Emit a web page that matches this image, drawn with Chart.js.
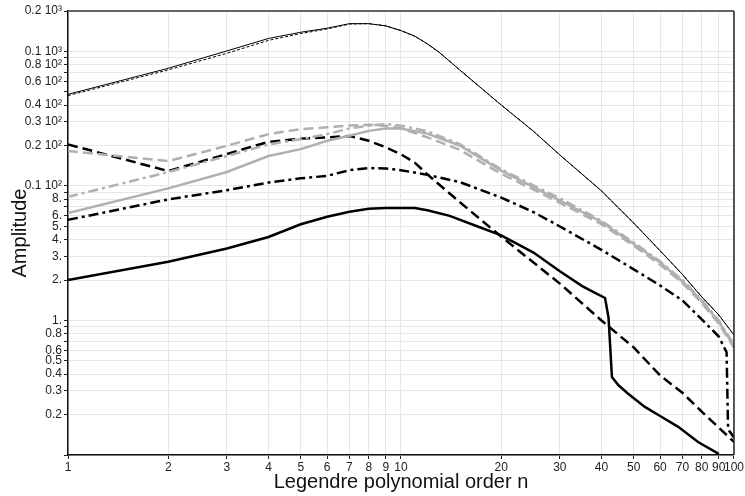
<!DOCTYPE html>
<html>
<head>
<meta charset="utf-8">
<script src="https://cdn.jsdelivr.net/npm/chart.js@4/dist/chart.umd.min.js"></script>
<style>
  html, body { margin: 0; padding: 0; background: #fff; }
  #wrap { width: 745px; height: 496px; }
</style>
</head>
<body>
<div id="wrap"><canvas id="ampChart" width="745" height="496"></canvas></div>
<script>
// tick values and labels
const xTickValues = [1, 2, 3, 4, 5, 6, 7, 8, 9, 10, 20, 30, 40, 50, 60, 70, 80, 90, 100];
const xTickLabels = ['1', '2', '3', '4', '5', '6', '7', '8', '9', '10', '20', '30', '40', '50', '60', '70', '80', '90', '100'];

const yTickValues = [0.1, 0.2, 0.3, 0.4, 0.5, 0.6, 0.7, 0.8, 0.9, 1, 2, 3, 4, 5, 6, 7, 8, 9,
                     10, 20, 30, 40, 50, 60, 70, 80, 90, 100, 200];
const yTickLabels = ['', '0.2', '0.3', '0.4', '0.5', '0.6', '', '0.8', '', '1.', '2.', '3.', '4.', '5.', '6.', '', '8.', '',
                     '0.1 10²', '0.2 10²', '0.3 10²', '0.4 10²', '', '0.6 10²', '', '0.8 10²', '', '0.1 10³', '0.2 10³'];

// series (n, amplitude)
const nTop = [1, 2, 3, 4, 5, 6, 7, 8, 9, 10, 11, 12, 13, 15, 20, 25, 30, 40, 50, 60, 70, 80, 90, 100];
const thinSolid = [48, 75, 101, 125, 139, 149, 161, 161, 155, 143, 130, 114, 99, 73, 40, 25.5, 17, 9.2, 5.3, 3.3, 2.2, 1.5, 1.1, 0.78];
const thinDotted = [47, 73, 97, 121, 136, 147, 160, 161, 155, 143, 130, 114, 99, 73, 40, 25.5, 17, 9.2, 5.3, 3.3, 2.2, 1.5, 1.1, 0.78];

const nGray = [1, 2, 3, 4, 5, 6, 7, 8, 9, 10, 12, 15, 20, 25, 30, 40, 50, 60, 70, 80, 90, 100];
const grayDashed = [18.2, 15.3, 19.9, 24.3, 26.5, 27.3, 28.2, 28.5, 28, 26.8, 23, 18.6, 12.3, 9.4, 7.5, 5.2, 3.6, 2.6, 1.9, 1.35, 0.95, 0.63];
const grayDashDot = [8.3, 12.7, 16.7, 20.4, 22.3, 24.3, 26.8, 28.1, 28.9, 28.1, 25.5, 20.5, 13.3, 10.1, 8.1, 5.5, 3.8, 2.75, 2.0, 1.42, 1.0, 0.66];
const graySolid = [6.3, 9.6, 12.7, 16.7, 18.8, 21.7, 23.6, 25.7, 26.8, 26.8, 24.5, 20, 13, 9.8, 7.8, 5.4, 3.7, 2.7, 1.95, 1.4, 0.98, 0.64];

const nDashed = [1, 2, 3, 4, 5, 6, 7, 8, 9, 10, 11, 12, 15, 20, 25, 30, 40, 50, 60, 70, 80, 90, 100];
const blackDashed = [20.4, 12.9, 17.3, 21.3, 22.5, 23, 23.5, 21.7, 19.4, 17.2, 14.9, 12.2, 7.6, 4.2, 2.7, 1.88, 1.0, 0.63, 0.39, 0.29, 0.21, 0.16, 0.125];

const nDashDot = [1, 2, 3, 4, 5, 6, 7, 8, 9, 10, 12, 15, 20, 25, 30, 40, 50, 60, 70, 80, 90, 95, 96, 100];
const blackDashDot = [5.6, 7.95, 9.3, 10.6, 11.4, 11.9, 13.1, 13.6, 13.5, 13.1, 12.1, 10.7, 8.2, 6.4, 5.0, 3.35, 2.4, 1.82, 1.41, 1.02, 0.76, 0.58, 0.155, 0.135];

const nSolid = [1, 2, 3, 4, 5, 6, 7, 8, 9, 10, 11, 12, 14, 17, 20, 25, 30, 35, 38, 41, 42, 43, 45, 48, 54, 60, 68, 78, 90];
const blackSolid = [2.0, 2.73, 3.43, 4.18, 5.19, 5.9, 6.44, 6.78, 6.85, 6.87, 6.85, 6.6, 6.0, 5.0, 4.3, 3.2, 2.32, 1.8, 1.62, 1.47, 1.05, 0.38, 0.33, 0.287, 0.228, 0.195, 0.162, 0.125, 0.102];

function pts(xs, ys) {
    return xs.map((x, i) => ({ x: x, y: ys[i] }));
}

const GRAY = '#b0b0b0';

function series(xs, ys, color, width, dash) {
    return {
        data: pts(xs, ys),
        borderColor: color,
        borderWidth: width,
        borderDash: dash,
        pointRadius: 0,
        tension: 0,
        fill: false
    };
}

// top and right frame lines
const framePlugin = {
    id: 'frame',
    afterDraw(chart) {
        const { ctx, chartArea: a } = chart;
        ctx.save();
        ctx.strokeStyle = '#666';
        ctx.lineWidth = 2;
        ctx.beginPath();
        ctx.moveTo(a.left, a.top);
        ctx.lineTo(a.right, a.top);
        ctx.stroke();
        ctx.strokeStyle = '#222';
        ctx.lineWidth = 1.5;
        ctx.beginPath();
        ctx.moveTo(a.right, a.top);
        ctx.lineTo(a.right, a.bottom);
        ctx.stroke();
        ctx.restore();
    }
};

const ctx = document.getElementById('ampChart').getContext('2d');

new Chart(ctx, {
    type: 'line',
    data: {
        datasets: [
            series(nGray, grayDashed, GRAY, 2.5, [10, 5]),
            series(nGray, grayDashDot, GRAY, 2.5, [10, 4, 3, 4]),
            series(nGray, graySolid, GRAY, 2.5, []),
            series(nTop, thinSolid, '#000', 1, []),
            series(nTop, thinDotted, '#000', 1, [3, 2]),
            series(nDashed, blackDashed, '#000', 2.5, [10, 5]),
            series(nDashDot, blackDashDot, '#000', 2.5, [10, 4, 3, 4]),
            series(nSolid, blackSolid, '#000', 2.5, [])
        ]
    },
    options: {
        responsive: false,
        animation: false,
        layout: { padding: { top: 11, right: 9, left: 0, bottom: 0 } },
        plugins: {
            legend: { display: false },
            tooltip: { enabled: false }
        },
        scales: {
            x: {
                type: 'logarithmic',
                min: 1,
                max: 100,
                afterBuildTicks: s => { s.ticks = xTickValues.map(v => ({ value: v })); },
                afterFit: s => { s.height = 41; },
                ticks: {
                    autoSkip: false,
                    maxRotation: 0,
                    padding: 1,
                    color: '#222',
                    font: { family: 'Liberation Sans', size: 12 },
                    callback: v => {
                        const i = xTickValues.indexOf(v);
                        return i >= 0 ? xTickLabels[i] : '';
                    }
                },
                grid: { color: '#e6e6e6', tickColor: '#222', tickLength: 4 },
                border: { color: '#111', width: 1.5 },
                title: {
                    display: true,
                    text: 'Legendre polynomial order n',
                    color: '#111',
                    font: { family: 'Liberation Sans', size: 20 },
                    padding: { top: 0, bottom: 2 }
                }
            },
            y: {
                type: 'logarithmic',
                min: 0.1,
                max: 200,
                afterBuildTicks: s => { s.ticks = yTickValues.map(v => ({ value: v })); },
                afterFit: s => { s.width = 68; },
                ticks: {
                    autoSkip: false,
                    padding: 2,
                    color: '#222',
                    font: { family: 'Liberation Sans', size: 12 },
                    callback: v => {
                        const i = yTickValues.indexOf(v);
                        return i >= 0 ? yTickLabels[i] : '';
                    }
                },
                grid: { color: '#e6e6e6', tickColor: '#222', tickLength: 4 },
                border: { color: '#111', width: 1.5 },
                title: {
                    display: true,
                    text: 'Amplitude',
                    color: '#111',
                    font: { family: 'Liberation Sans', size: 20 },
                    padding: { top: 8, bottom: 0 }
                }
            }
        }
    },
    plugins: [framePlugin]
});
</script>
</body>
</html>
